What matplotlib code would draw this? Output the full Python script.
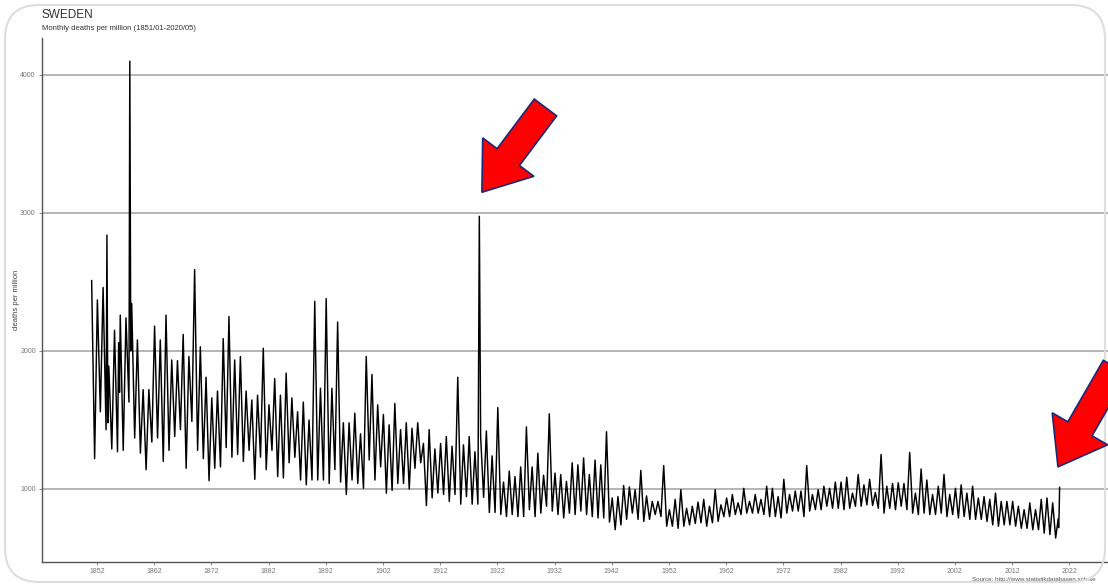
import numpy as np
import matplotlib
matplotlib.use("Agg")
import matplotlib.pyplot as plt
from matplotlib.patches import FancyArrow, FancyBboxPatch

plt.rcParams['font.family'] = ['Liberation Sans', 'DejaVu Sans']

# ---------------- data ----------------
years = list(range(1851, 2020))

# winter (early-year) peak of monthly deaths per million, per year
winter_peak = [
    2510, 2370, 2460, 1890, 2150, 2260, 2240, 2345, 2080, 1720,   # 1851-1860
    1720, 2180, 2080, 2260, 1935, 1930, 2120, 1960, 2590, 2030,   # 1861-1870
    1810, 1660, 1710, 2090, 2250, 1935, 1960, 1710, 1645, 1680,   # 1871-1880
    2020, 1610, 1800, 1680, 1840, 1660, 1560, 1630, 1500, 2360,   # 1881-1890
    1730, 2380, 1730, 2210, 1480, 1480, 1550, 1400, 1960, 1830,   # 1891-1900
    1610, 1540, 1465, 1620, 1430, 1480, 1440, 1480, 1330, 1430,   # 1901-1910
    1290, 1330, 1380, 1310, 1810, 1320, 1380, 1270, 1380, 1420,   # 1911-1920
    1240, 1590, 1050, 1130, 1090, 1160, 1450, 1160, 1260, 1100,   # 1921-1930
    1545, 1115, 1105, 1055, 1190, 1175, 1225, 1105, 1210, 1175,   # 1931-1940
    1415, 935, 945, 1025, 1015, 995, 1135, 950, 910, 910,         # 1941-1950
    1170, 850, 925, 995, 860, 875, 905, 925, 875, 995,            # 1951-1960
    885, 935, 960, 900, 1005, 910, 960, 925, 1020, 1005,          # 1961-1970
    945, 1070, 960, 985, 985, 1170, 960, 995, 1020, 1005,         # 1971-1980
    1050, 1050, 1085, 970, 1105, 1030, 1070, 975, 1250, 1020,     # 1981-1990
    1040, 1045, 1040, 1265, 970, 1145, 1065, 960, 1020, 1105,     # 1991-2000
    960, 1005, 1030, 970, 1020, 935, 945, 925, 970, 910,          # 2001-2010
    910, 910, 875, 850, 900, 850, 925, 935, 900,                  # 2011-2019
]

# summer low of monthly deaths per million, per year
summer_low = [
    1220, 1560, 1430, 1290, 1270, 1280, 1630, 1370, 1260, 1140,   # 1851-1860
    1340, 1370, 1200, 1280, 1380, 1430, 1150, 1490, 1280, 1220,   # 1861-1870
    1060, 1150, 1160, 1300, 1230, 1250, 1200, 1280, 1070, 1230,   # 1871-1880
    1140, 1280, 1090, 1080, 1190, 1230, 1065, 1030, 1065, 1065,   # 1881-1890
    1065, 1040, 1140, 1050, 960, 1065, 1040, 1005, 1210, 1065,    # 1891-1900
    1160, 970, 990, 1040, 1040, 1000, 1150, 1190, 880, 935,       # 1901-1910
    970, 960, 910, 960, 890, 945, 890, 890, 940, 830,             # 1911-1920
    830, 815, 800, 815, 800, 800, 850, 800, 825, 875,             # 1921-1930
    840, 815, 790, 825, 815, 840, 815, 800, 790, 790,             # 1931-1940
    760, 705, 740, 780, 825, 780, 765, 780, 815, 800,             # 1941-1950
    730, 730, 715, 730, 740, 750, 755, 730, 755, 765,             # 1951-1960
    800, 800, 815, 815, 825, 825, 825, 815, 800, 800,             # 1961-1970
    790, 825, 840, 840, 800, 840, 850, 850, 875, 860,             # 1971-1980
    860, 850, 860, 875, 875, 885, 880, 860, 825, 860,             # 1981-1990
    850, 875, 850, 825, 815, 825, 815, 815, 825, 800,             # 1991-2000
    815, 790, 800, 780, 780, 780, 765, 740, 730, 740,             # 2001-2010
    740, 730, 715, 715, 705, 705, 680, 670, 645,                  # 2011-2019
]

# extra epidemic spikes and their after-values (date in decimal years)
extra_dates = [1853.75, 1853.92, 1855.80, 1855.95, 1857.75, 1857.92, 1918.85]
extra_values = [2840, 1480, 2060, 1700, 4100, 2000, 2976]

# 2020 months (Jan-Apr)
tail_dates = [2020.04, 2020.12, 2020.21, 2020.29]
tail_values = [785, 720, 830, 1012]

xtick_years = list(range(1852, 2023, 10))
ytick_values = [1000, 2000, 3000, 4000]

# ---------------- build series ----------------
pts = []
for y, p, l in zip(years, winter_peak, summer_low):
    pts.append((y + 0.08, p))
    pts.append((y + 0.60, l))
pts += list(zip(extra_dates, extra_values))
pts += list(zip(tail_dates, tail_values))
pts.sort()
t = np.array([p[0] for p in pts])
v = np.array([p[1] for p in pts])

# ---------------- figure ----------------
W, H = 1108, 586
fig = plt.figure(figsize=(W / 100, H / 100), dpi=100)
fig.patch.set_facecolor('white')

ax = fig.add_axes([42 / W, (H - 562) / H, 1 - 42 / W, (562 - 38) / H])
ax.set_xlim(1842.4, 2028.75)
ax.set_ylim(471, 4268)

ax.plot(t, v, color='black', lw=1.05, zorder=3)

ax.set_xticks(xtick_years)
ax.set_xticklabels([str(x) for x in xtick_years])
ax.set_yticks(ytick_values)
ax.set_yticklabels([str(x) for x in ytick_values])
ax.tick_params(axis='both', labelsize=5, colors='#777777', length=2.5, width=0.6)
ax.tick_params(axis='x', pad=1.5)
ax.tick_params(axis='y', pad=2)
ax.yaxis.grid(True, color='#a0a0a0', lw=1.1)
ax.set_axisbelow(True)
for s in ['top', 'right']:
    ax.spines[s].set_visible(False)
for s in ['left', 'bottom']:
    ax.spines[s].set_color('#555555')
    ax.spines[s].set_linewidth(1.0)

fig.text(42 / W, 1 - 15 / H, 'SWEDEN', fontsize=8.5, color='#333333', va='center', ha='left')
fig.text(42 / W, 1 - 28 / H, 'Monthly deaths per million (1851/01-2020/05)', fontsize=5.5,
         color='#333333', va='center', ha='left')
fig.text(17 / W, 1 - 300 / H, 'deaths per million', fontsize=5.5, color='#444444',
         rotation=90, va='center', ha='center')
fig.text(972 / W, 1 - 580 / H, 'Source: http://www.statistikdatabasen.scb.se', fontsize=4.5,
         color='#555555', va='center', ha='left')

# overlay in pixel coordinates for frame and arrows
ov = fig.add_axes([0, 0, 1, 1], zorder=10)
ov.set_xlim(0, W)
ov.set_ylim(H, 0)
ov.axis('off')
ov.patch.set_alpha(0)

frame = FancyBboxPatch((5, 5), W - 8, H - 9, boxstyle='round,pad=0,rounding_size=34',
                       fc='none', ec='#dedede', lw=1.5)
ov.add_patch(frame)

def arrow_to(year, value, direction, length):
    px, py = ax.transData.transform((year, value))
    tx, ty = px, H - py
    d = np.array(direction, float)
    d /= np.hypot(*d)
    sx, sy = tx + d[0] * length, ty + d[1] * length
    ov.add_patch(FancyArrow(sx, sy, tx - sx, ty - sy, width=28, head_width=64,
                            head_length=44, length_includes_head=True,
                            fc='#ff0000', ec='#1a2a7a', lw=1.2, clip_on=False))

arrow_to(1919.3, 3150, (0.6, -0.8), 106)
arrow_to(2020.0, 1160, (0.5, -0.866), 115)

fig.savefig('out.png', dpi=100)
